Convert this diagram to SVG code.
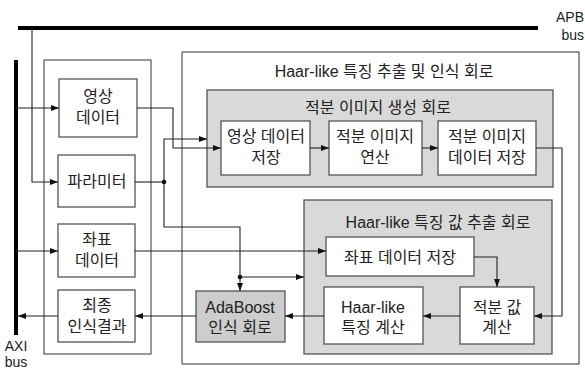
<svg xmlns="http://www.w3.org/2000/svg" width="585" height="370" viewBox="0 0 585 370">
<style>
text{font-family:"Liberation Sans","Noto Sans CJK KR",sans-serif;font-size:16px;fill:#222;text-anchor:middle}
.lbl{font-size:14px}
.box{fill:#fff;stroke:#555;stroke-width:1.3}
.grp{fill:#d9d9d9;stroke:#555;stroke-width:1.3}
.ada{fill:#cdcdcd;stroke:#555;stroke-width:1.3}
.frame{fill:none;stroke:#555;stroke-width:1.2}
.bus{stroke:#000;stroke-width:4;fill:none}
.c{fill:none;stroke:#222;stroke-width:1.1}
.a{marker-end:url(#ah)}
</style>
<defs>
<marker id="ah" viewBox="0 0 8 6" refX="8" refY="3" markerWidth="8" markerHeight="6" markerUnits="userSpaceOnUse" orient="auto">
<path d="M0,0 L8,3 L0,6 z" fill="#111"/>
</marker>
</defs>
<rect width="585" height="370" fill="#fff"/>
<g id="apb-bus">
<line class="bus" x1="18" y1="28" x2="538" y2="28"/>
<text class="lbl" x="584" y="22" style="text-anchor:end">APB</text>
<text class="lbl" x="584" y="40" style="text-anchor:end">bus</text>
</g>
<g id="axi-bus">
<line class="bus" x1="16" y1="60" x2="16" y2="335"/>
<text class="lbl" x="16" y="351">AXI</text>
<text class="lbl" x="16" y="367">bus</text>
</g>
<g id="left-frame"><rect class="frame" x="44" y="60" width="107" height="294"/></g>
<g id="haar-frame">
<rect class="frame" x="182" y="52" width="397" height="312"/>
<text x="384" y="77">Haar-like 특징 추출 및 인식 회로</text>
</g>
<g id="integral-group">
<rect class="grp" x="207" y="90" width="346" height="97"/>
<text x="378" y="113">적분 이미지 생성 회로</text>
</g>
<g id="feature-group">
<rect class="grp" x="304" y="200" width="248" height="154"/>
<text x="438" y="228">Haar-like 특징 값 추출 회로</text>
</g>
<g id="image-data"><rect class="box" x="59" y="79" width="78" height="58"/><text x="98" y="102">영상</text><text x="98" y="123">데이터</text></g>
<g id="parameter"><rect class="box" x="58" y="155" width="77" height="52"/><text x="97" y="187">파라미터</text></g>
<g id="coord-data"><rect class="box" x="58" y="224" width="77" height="53"/><text x="97" y="245">좌표</text><text x="97" y="266">데이터</text></g>
<g id="final-result"><rect class="box" x="58" y="290" width="77" height="52"/><text x="97" y="311">최종</text><text x="97" y="332">인식결과</text></g>
<g id="image-store"><rect class="box" x="221" y="121" width="89" height="54"/><text x="266" y="142">영상 데이터</text><text x="266" y="163">저장</text></g>
<g id="integral-calc"><rect class="box" x="329" y="121" width="93" height="54"/><text x="375" y="142">적분 이미지</text><text x="375" y="163">연산</text></g>
<g id="integral-store"><rect class="box" x="438" y="121" width="98" height="54"/><text x="487" y="142">적분 이미지</text><text x="487" y="163">데이터 저장</text></g>
<g id="coord-store"><rect class="box" x="326" y="237" width="148" height="39"/><text x="400" y="263">좌표 데이터 저장</text></g>
<g id="haar-calc"><rect class="box" x="324" y="287" width="99" height="57"/><text x="373" y="313">Haar-like</text><text x="373" y="333">특징 계산</text></g>
<g id="integral-value"><rect class="box" x="460" y="287" width="74" height="57"/><text x="497" y="313">적분 값</text><text x="497" y="333">계산</text></g>
<g id="adaboost"><rect class="ada" x="196" y="291" width="89" height="51"/><text x="240" y="313">AdaBoost</text><text x="240" y="333">인식 회로</text></g>
<g id="connectors">
<path class="c a" d="M16,108 H59"/>
<path class="c a" d="M32,28 V182 H58"/>
<path class="c a" d="M16,251 H58"/>
<path class="c a" d="M58,316 H18"/>
<path class="c a" d="M196,316 H135"/>
<path class="c a" d="M324,316 H285"/>
<path class="c a" d="M460,316 H423"/>
<path class="c a" d="M536,148 H562 V316 H534"/>
<path class="c a" d="M474,257 H497 V287"/>
<path class="c a" d="M135,251 H326"/>
<path class="c a" d="M137,108 H173 V148 H221"/>
<path class="c a" d="M310,148 H329"/>
<path class="c a" d="M422,148 H438"/>
<path class="c" d="M135,182 H164"/>
<path class="c a" d="M164,182 V139 H207"/>
<path class="c a" d="M164,182 V227 H240 V291"/>
<path class="c a" d="M240,277 H304"/>
<circle cx="164" cy="182" r="2.3" fill="#111"/>
<circle cx="240" cy="277" r="2.3" fill="#111"/>
</g>
</svg>
